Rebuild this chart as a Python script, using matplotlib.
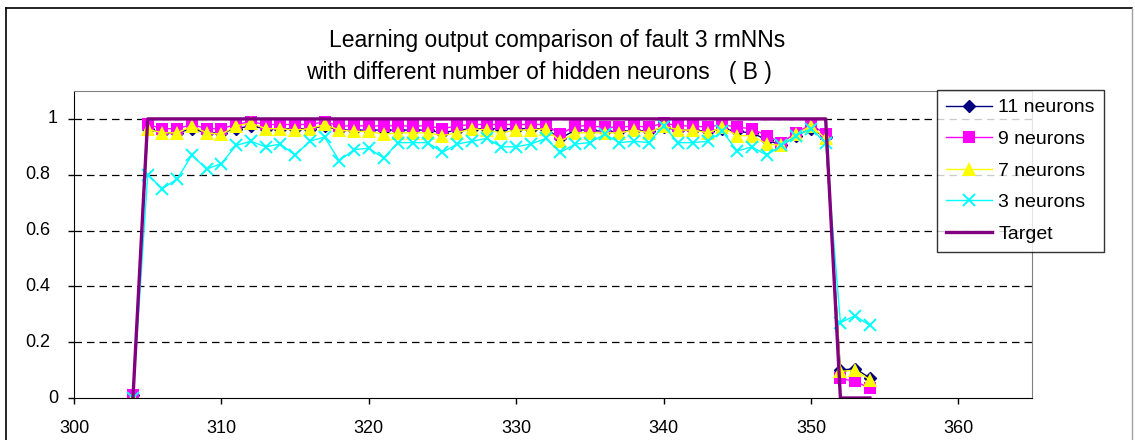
import numpy as np
import matplotlib
matplotlib.use('Agg')
import matplotlib.pyplot as plt
from matplotlib.lines import Line2D
from matplotlib.transforms import blended_transform_factory, offset_copy

plt.rcParams['font.family'] = ['Liberation Sans', 'DejaVu Sans']

# sample index (x axis)
amostras = np.arange(304, 355)

neur11 = [0.01, 0.965, 0.95, 0.95, 0.965, 0.95, 0.95, 0.965, 0.975, 0.965,
          0.965, 0.965, 0.965, 0.975, 0.96, 0.96, 0.96, 0.96, 0.96, 0.96,
          0.96, 0.95, 0.96, 0.965, 0.965, 0.965, 0.965, 0.965, 0.965, 0.93,
          0.96, 0.96, 0.955, 0.955, 0.96, 0.955, 0.97, 0.96, 0.96, 0.955,
          0.965, 0.955, 0.95, 0.925, 0.905, 0.94, 0.965, 0.935, 0.10, 0.105,
          0.072]
neur9 = [0.01, 0.98, 0.965, 0.965, 0.98, 0.965, 0.965, 0.98, 0.99, 0.98,
         0.98, 0.98, 0.98, 0.99, 0.975, 0.975, 0.975, 0.975, 0.975, 0.975,
         0.975, 0.965, 0.975, 0.98, 0.98, 0.98, 0.98, 0.98, 0.98, 0.945,
         0.975, 0.975, 0.97, 0.97, 0.975, 0.97, 0.985, 0.975, 0.975, 0.97,
         0.98, 0.97, 0.965, 0.94, 0.915, 0.95, 0.98, 0.945, 0.07, 0.06,
         0.035]
neur7 = [0.0, 0.963, 0.95, 0.95, 0.975, 0.95, 0.945, 0.975, 0.985, 0.965,
         0.965, 0.96, 0.965, 0.98, 0.96, 0.955, 0.955, 0.945, 0.95, 0.95,
         0.95, 0.94, 0.95, 0.965, 0.96, 0.95, 0.96, 0.96, 0.965, 0.92,
         0.95, 0.95, 0.95, 0.95, 0.96, 0.95, 0.975, 0.96, 0.96, 0.95,
         0.97, 0.94, 0.94, 0.91, 0.905, 0.945, 0.975, 0.93, 0.095, 0.10,
         0.065]
neur3 = [0.0, 0.80, 0.75, 0.785, 0.87, 0.82, 0.84, 0.905, 0.92, 0.90,
         0.91, 0.87, 0.92, 0.935, 0.85, 0.89, 0.895, 0.86, 0.915, 0.915,
         0.915, 0.88, 0.91, 0.92, 0.93, 0.90, 0.90, 0.91, 0.93, 0.88,
         0.91, 0.915, 0.945, 0.915, 0.92, 0.915, 0.975, 0.915, 0.915, 0.92,
         0.955, 0.885, 0.90, 0.87, 0.905, 0.94, 0.965, 0.915, 0.27, 0.295,
         0.26]
alvo = [0] + [1] * 47 + [0] * 3

yticks = [0, 0.2, 0.4, 0.6, 0.8, 1]
ylabels = ['0', '0.2', '0.4', '0.6', '0.8', '1']
xticks = [300, 310, 320, 330, 340, 350, 360]

W, H = 1135, 440
fig = plt.figure(figsize=(W / 100, H / 100), dpi=100)

# outer chart border
fig.add_artist(Line2D([6 / W, 6 / W], [0, 1 - 8 / H], color='black', lw=1.2))
fig.add_artist(Line2D([6 / W, 1132 / W], [1 - 8 / H, 1 - 8 / H], color='black', lw=1.2))
fig.add_artist(Line2D([1132 / W, 1132 / W], [0, 1 - 8 / H], color='#a0a0a0', lw=1))

ax = fig.add_axes([74 / W, (H - 398) / H, (1032 - 74) / W, (398 - 91) / H])

ax.plot(amostras, neur11, color='#000080', lw=1, marker='D', ms=6,
        label='11 neurons')
ax.plot(amostras, neur9, color='#FF00FF', lw=1, marker='s', ms=9,
        markeredgewidth=0, label='9 neurons')
ax.plot(amostras, neur7, color='#FFFF00', lw=1, marker='^', ms=10,
        markeredgewidth=0, label='7 neurons')
ax.plot(amostras, neur3, color='#00FFFF', lw=1, marker='x', ms=9,
        markeredgewidth=1.4, label='3 neurons')
ax.plot(amostras, alvo, color='#800080', lw=2.4, label='Target')

ax.set_xlim(300, 365)
ax.set_ylim(0, 1.1)
ax.set_xticks(xticks)
ax.set_yticks(yticks)
ax.set_yticklabels([])
for y in yticks[1:]:
    ax.axhline(y, color='black', lw=0.9, ls=(0, (6, 4)), zorder=0)

ax.tick_params(axis='x', direction='out', length=4, width=1, labelsize=13,
               pad=12, colors='black')
ax.tick_params(axis='y', direction='out', length=4, width=1)

# y labels drawn by hand (integer labels sit further right in the source)
trans = blended_transform_factory(ax.transAxes, ax.transData)
for y, lab in zip(yticks, ylabels):
    off = 58 if lab in ('0', '1') else 50
    t = offset_copy(trans, fig=fig, x=-(74 - off) * 0.72, y=0, units='points')
    ax.text(0, y, lab, transform=t, ha='right', va='center', fontsize=13)

for s in ['left', 'bottom']:
    ax.spines[s].set_color('black')
for s in ['top', 'right']:
    ax.spines[s].set_color('#808080')

fig.text(557 / W, 1 - 40 / H, 'Learning output comparison of fault 3 rmNNs',
         ha='center', va='center', fontsize=16.5)
fig.text(539 / W, 1 - 73 / H, 'with different number of hidden neurons   ( B )',
         ha='center', va='center', fontsize=16.5)

leg = ax.legend(loc='upper left', bbox_to_anchor=(937 / W, 1 - 90 / H),
                bbox_transform=fig.transFigure, borderaxespad=0,
                fontsize=14, frameon=True, fancybox=False, handlelength=2.4,
                labelspacing=0.72, handletextpad=0.3, borderpad=0.45)
leg.get_frame().set_edgecolor('black')
leg.get_frame().set_linewidth(1)

fig.savefig('out.png', dpi=100)
